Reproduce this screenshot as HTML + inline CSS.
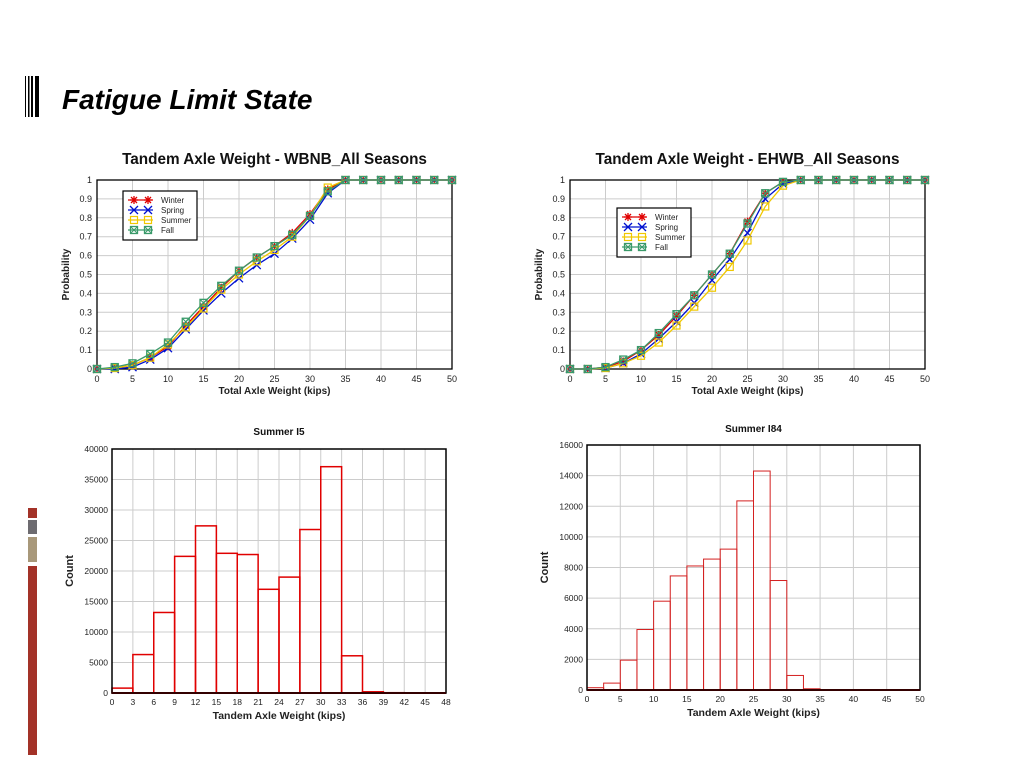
<!DOCTYPE html>
<html><head><meta charset="utf-8"><style>
body{margin:0;background:#fff;width:1024px;height:768px;overflow:hidden;font-family:"Liberation Sans",sans-serif}
svg{position:absolute;left:0;top:0}
</style></head><body>
<svg id="s" width="1024" height="768" xmlns="http://www.w3.org/2000/svg">
<g>
<rect x="25" y="76" width="1" height="41" fill="#000"/><rect x="28" y="76" width="1.5" height="41" fill="#000"/><rect x="31" y="76" width="2" height="41" fill="#000"/><rect x="35" y="76" width="4" height="41" fill="#000"/>
</g>
<text x="62" y="109" font-size="28" font-weight="bold" font-style="italic" fill="#000">Fatigue Limit State</text>
<g>
<rect x="28" y="508" width="9" height="10" fill="#a33228"/><rect x="28" y="520" width="9" height="14" fill="#6d6b70"/><rect x="28" y="537" width="9" height="25" fill="#a8987a"/><rect x="28" y="566" width="9" height="189" fill="#a33228"/>
</g>
</svg>
<script>
const xs=[0,2.5,5,7.5,10,12.5,15,17.5,20,22.5,25,27.5,30,32.5,35,37.5,40,42.5,45,47.5,50];
const wbWinter=[0,0.005,0.02,0.06,0.12,0.23,0.33,0.43,0.52,0.59,0.65,0.72,0.82,0.95,1,1,1,1,1,1,1];
const wbSpring=[0,0,0.01,0.05,0.11,0.21,0.31,0.40,0.48,0.55,0.61,0.69,0.79,0.93,1,1,1,1,1,1,1];
const wbSummer=[0,0.005,0.02,0.06,0.13,0.22,0.32,0.42,0.50,0.57,0.63,0.70,0.81,0.96,1,1,1,1,1,1,1];
const wbFall=[0,0.01,0.03,0.08,0.14,0.25,0.35,0.44,0.52,0.59,0.65,0.71,0.81,0.94,1,1,1,1,1,1,1];
const ehWinter=[0,0,0.01,0.04,0.10,0.18,0.28,0.39,0.50,0.61,0.78,0.93,0.99,1,1,1,1,1,1,1,1];
const ehSpring=[0,0,0.005,0.03,0.08,0.16,0.25,0.35,0.47,0.58,0.72,0.90,0.98,1,1,1,1,1,1,1,1];
const ehSummer=[0,0,0.005,0.03,0.07,0.14,0.23,0.33,0.43,0.54,0.68,0.86,0.97,1,1,1,1,1,1,1,1];
const ehFall=[0,0,0.01,0.05,0.10,0.19,0.29,0.39,0.50,0.61,0.77,0.93,0.99,1,1,1,1,1,1,1,1];
const i5Counts=[800,6300,13200,22400,27400,22900,22700,17000,19000,26800,37100,6100,200,50,0,0];
const i84Counts=[150,450,1950,3950,5800,7450,8100,8550,9200,12350,14300,7150,950,80,0,0,0,0,0,0];
const seriesNames=['Winter','Spring','Summer','Fall'];

const S=document.getElementById('s');const NS='http://www.w3.org/2000/svg';
function el(t,a,p){const e=document.createElementNS(NS,t);for(const k in a)e.setAttribute(k,a[k]);(p||S).appendChild(e);return e;}
function txt(x,y,s,a,p){const e=el('text',Object.assign({x:x,y:y,'font-size':9,fill:'#222','text-anchor':'middle'},a),p);e.textContent=s;return e;}
const colors=['#e00000','#0010d0','#f0c800','#3a9a6a'];
function marker(g,k,x,y,c){
 if(k==0){el('path',{d:`M${x-4} ${y}H${x+4}M${x} ${y-4}V${y+4}M${x-3} ${y-3}L${x+3} ${y+3}M${x-3} ${y+3}L${x+3} ${y-3}`,stroke:c,'stroke-width':1.3},g);}
 else if(k==1){el('path',{d:`M${x-4} ${y-4}L${x+4} ${y+4}M${x-4} ${y+4}L${x+4} ${y-4}`,stroke:c,'stroke-width':1.3},g);}
 else if(k==2){el('rect',{x:x-3.5,y:y-3.5,width:7,height:7,fill:'none',stroke:c,'stroke-width':1.2},g);}
 else {el('rect',{x:x-3.5,y:y-3.5,width:7,height:7,fill:'none',stroke:c,'stroke-width':1.3},g);el('path',{d:`M${x-3} ${y-3}L${x+3} ${y+3}M${x-3} ${y+3}L${x+3} ${y-3}`,stroke:c,'stroke-width':1},g);}
}
function cdf(name,title,L,R,T,B,data,leg){
 const g=el('g',{});
 
 
 const X=v=>L+(R-L)*v/50, Y=v=>B-(B-T)*v;
 const t=txt((L+R)/2,164,title,{'font-size':15.3,'font-weight':'bold',fill:'#111'},g);
 
 
 for(let v=0;v<=50;v+=5){el('line',{x1:X(v),x2:X(v),y1:T,y2:B,stroke:'#ccc'},g);txt(X(v),382,String(v),{},g);}
 for(let i=0;i<=10;i++){const v=i/10;el('line',{x1:L,x2:R,y1:Y(v),y2:Y(v),stroke:'#ccc'},g);txt(L-5,Y(v)+3,i==0?'0':(i==10?'1':String(v)),{'text-anchor':'end'},g);}
 el('rect',{x:L,y:T,width:R-L,height:B-T,fill:'none',stroke:'#000','stroke-width':1.3},g);
 const xl=txt((L+R)/2,394,'Total Axle Weight (kips)',{'font-size':10,'font-weight':'bold'},g);
 
 
 const yl=txt(0,0,'Probability',{'font-size':10,'font-weight':'bold',transform:`translate(${L-28},${(T+B)/2}) rotate(-90)`},g);
 
 
 data.forEach((d,k)=>{
  const s=el('g',{},g);
  
  
  el('polyline',{points:d.map((v,i)=>X(xs[i])+','+Y(v)).join(' '),fill:'none',stroke:colors[k],'stroke-width':1.3},s);
  d.forEach((v,i)=>marker(s,k,X(xs[i]),Y(v),colors[k]));
 });
 const lg=el('g',{},g);
 
 
 el('rect',{x:leg[0],y:leg[1],width:74,height:49,fill:'#fff',stroke:'#000','stroke-width':1.2},lg);
 seriesNames.forEach((n,k)=>{const y=leg[1]+9+k*10;el('line',{x1:leg[0]+5,x2:leg[0]+30,y1:y,y2:y,stroke:colors[k],'stroke-width':1.3},lg);marker(lg,k,leg[0]+11,y,colors[k]);marker(lg,k,leg[0]+25,y,colors[k]);
  const e=txt(leg[0]+38,y+3,n,{'text-anchor':'start','font-size':8},lg);});
}
cdf('cdf-wbnb-chart','Tandem Axle Weight - WBNB_All Seasons',97,452,180,369,[wbWinter,wbSpring,wbSummer,wbFall],[123,191]);
cdf('cdf-ehwb-chart','Tandem Axle Weight - EHWB_All Seasons',570,925,180,369,[ehWinter,ehSpring,ehSummer,ehFall],[617,208]);

function hist(name,title,L,R,T,B,xmax,xstep,ymax,ystep,bw,counts,titleY,color,sw){
 const g=el('g',{});
 
 
 const X=v=>L+(R-L)*v/xmax, Y=v=>B-(B-T)*v/ymax;
 const t=txt((L+R)/2,titleY,title,{'font-size':10,'font-weight':'bold',fill:'#111'},g);
 
 
 for(let v=0;v<=xmax;v+=xstep){el('line',{x1:X(v),x2:X(v),y1:T,y2:B,stroke:'#ccc'},g);txt(X(v),B+12,String(v),{'font-size':8.5},g);}
 for(let v=0;v<=ymax;v+=ystep){el('line',{x1:L,x2:R,y1:Y(v),y2:Y(v),stroke:'#ccc'},g);txt(L-4,Y(v)+3,String(v),{'text-anchor':'end','font-size':8.5},g);}
 counts.forEach((c,i)=>{if(c<=0)return;const r=el('rect',{x:X(i*bw),y:Y(c),width:X(bw)-X(0),height:B-Y(c),fill:'none',stroke:color,'stroke-width':sw},g);
  });
 el('rect',{x:L,y:T,width:R-L,height:B-T,fill:'none',stroke:'#000','stroke-width':1.5},g);
 el('line',{x1:L,x2:R,y1:B,y2:B,stroke:'#300','stroke-width':2},g);
 const xl=txt((L+R)/2,B+26,'Tandem Axle Weight (kips)',{'font-size':10.5,'font-weight':'bold'},g);
 
 
 const yl=txt(0,0,'Count',{'font-size':11,'font-weight':'bold',transform:`translate(${L-39},${(T+B)/2}) rotate(-90)`},g);
 
 
}
hist('histogram-summer-i5','Summer I5',112,446,449,693,48,3,40000,5000,3,i5Counts,435,'#e00000',1.5);
hist('histogram-summer-i84','Summer I84',587,920,445,690,50,5,16000,2000,2.5,i84Counts,432,'#d42020',1);
</script>
</body></html>
